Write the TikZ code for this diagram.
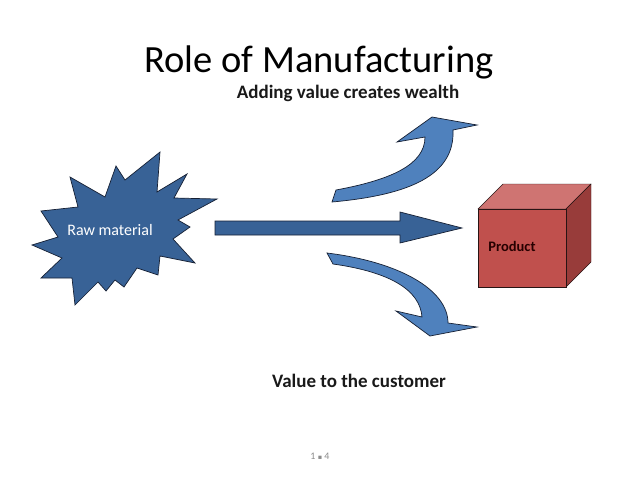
\documentclass[tikz,border=0pt]{standalone}
\usepackage{fontspec}
\setmainfont{Carlito}
\newfontfamily\symfont{DejaVu Sans}

\definecolor{starblue}{RGB}{56,98,150}
\definecolor{arrowblue}{RGB}{79,129,189}
\definecolor{edgeblue}{RGB}{22,32,52}
\definecolor{cubefront}{RGB}{192,80,77}
\definecolor{cubetop}{RGB}{207,116,114}
\definecolor{cubeside}{RGB}{152,60,58}
\definecolor{cubeedge}{RGB}{40,20,20}
\definecolor{pagegray}{RGB}{140,140,140}

% front face corner (x,y), width, height, depth
\newcommand{\pcube}[5]{
	\pgfmathsetmacro{\PCxa}{#1}
	\pgfmathsetmacro{\PCya}{#2}
	\pgfmathsetmacro{\PCxb}{#1+#3}
	\pgfmathsetmacro{\PCyb}{#2+#4}
	\pgfmathsetmacro{\PCxc}{#1+#5}
	\pgfmathsetmacro{\PCxd}{#1+#3+#5}
	\pgfmathsetmacro{\PCyc}{#2-#5}
	\pgfmathsetmacro{\PCyd}{#2+#4-#5}
	\draw[cubeedge, fill=cubetop] (\PCxa,\PCya) -- (\PCxc,\PCyc) -- (\PCxd,\PCyc) -- (\PCxb,\PCya) -- cycle;
	\draw[cubeedge, fill=cubeside] (\PCxb,\PCya) -- (\PCxd,\PCyc) -- (\PCxd,\PCyd) -- (\PCxb,\PCyb) -- cycle;
	\draw[cubeedge, fill=cubefront] (\PCxa,\PCya) rectangle (\PCxb,\PCyb);
}

\tikzset{
	shape line/.style={draw=edgeblue, line width=0.7pt, line join=miter},
	bold label/.style={font=\bfseries\fontsize{19}{22}\selectfont, text=black!90},
}

\begin{document}
\begin{tikzpicture}[x=1pt, y=-1pt]
\useasboundingbox[fill=white] (0,0) rectangle (638,479);

\node (title) at (319,62) {\fontsize{38.5}{44}\selectfont Role of Manufacturing};
\node[bold label] (wealth) at (348,93) {Adding value creates wealth};
\node[bold label] (customer) at (359,381) {Value to the customer};

% raw material burst
\draw[shape line, fill=starblue] (41,211) -- (78,207) -- (70,177) -- (105,197) -- (116,166)
	-- (125,180) -- (160,152) -- (157,192) -- (187,174) -- (174,198) -- (217,199)
	-- (178,220) -- (190,227) -- (173,239) -- (195,263) -- (160,256) -- (158,275)
	-- (137,268) -- (124,287) -- (115,280) -- (106,291) -- (98,282) -- (75,305)
	-- (72,278) -- (41,278) -- (62,258) -- (32,245) -- (58,237) -- cycle;
\node[text=white, font=\fontsize{16}{18}\selectfont] (raw) at (110,230) {Raw material};

% straight arrow
\draw[shape line, fill=starblue] (215,221) -- (400,221) -- (400,212) -- (462,228)
	-- (400,243) -- (400,235) -- (215,235) -- cycle;

% curved arrow up
\draw[shape line, fill=arrowblue] (336,190) .. controls (390,180) and (425,165) .. (425,137)
	-- (397,142) -- (432,117) -- (477,125) -- (453,130)
	.. controls (455,175) and (410,195) .. (332,202) -- cycle;

% curved arrow down
\draw[shape line, fill=arrowblue] (327,253) .. controls (400,262) and (448,290) .. (448,323)
	-- (477,327) -- (430,336) -- (396,311) -- (422,317)
	.. controls (420,290) and (390,272) .. (333,264) -- cycle;

\pcube{478}{209}{88}{78}{25}
\node[font=\bfseries\fontsize{14.5}{16}\selectfont, text=black!85!red] (product) at (512,246) {Product};

\node[text=pagegray, font=\fontsize{10}{12}\selectfont] (page) at (320,456) {1 {\symfont\fontsize{6.5}{8}\selectfont ▪} 4};
\end{tikzpicture}
\end{document}
